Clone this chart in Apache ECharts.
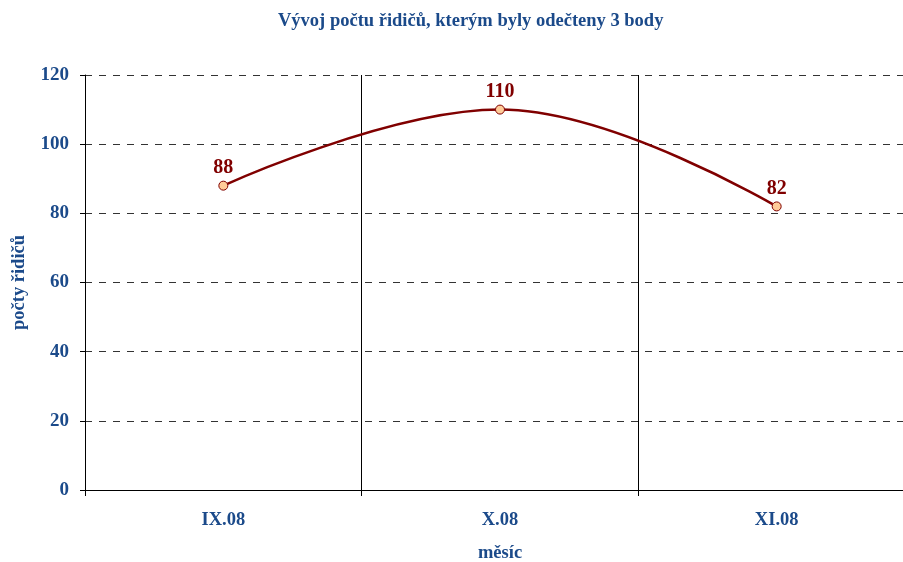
<!DOCTYPE html>
<html>
<head>
<meta charset="utf-8">
<script src="https://cdn.jsdelivr.net/npm/echarts@6/dist/echarts.min.js"></script>
<style>
  html, body { margin: 0; padding: 0; background: #fff; }
  #chart { width: 903px; height: 562px; }
</style>
</head>
<body>
<div id="chart"></div>
<script>
const months = ['IX.08', 'X.08', 'XI.08'];
const drivers = [88, 110, 82];

const textBlue = '#1b4a8a';
const serif = '"Liberation Serif", "DejaVu Serif", serif';

const myChart = echarts.init(document.getElementById('chart'));
const option = {
  backgroundColor: '#fff',
  animation: false,
  textStyle: { fontFamily: serif },
  title: {
    text: 'Vývoj počtu řidičů, kterým byly odečteny 3 body',
    left: 273,
    top: 7,
    textStyle: { color: textBlue, fontSize: 18.5, fontWeight: 'bold', fontFamily: serif }
  },
  grid: { left: 85, top: 75, width: 830, height: 415, outerBoundsMode: 'none', containLabel: false },
  xAxis: {
    type: 'category',
    data: months,
    boundaryGap: true,
    name: 'měsíc',
    nameLocation: 'middle',
    nameGap: 54,
    nameTextStyle: { color: textBlue, fontSize: 18.5, fontWeight: 'bold', fontFamily: serif },
    axisLine: { lineStyle: { color: '#000', width: 1 } },
    axisTick: { show: true, length: 6, lineStyle: { color: '#000' } },
    axisLabel: { color: textBlue, fontSize: 18.5, fontWeight: 'bold', margin: 21, fontFamily: serif },
    splitLine: { show: true, lineStyle: { color: '#000', width: 1, type: 'solid' } }
  },
  yAxis: {
    type: 'value',
    min: 0,
    max: 120,
    interval: 20,
    name: 'počty řidičů',
    nameLocation: 'middle',
    nameGap: 56,
    nameTextStyle: { color: textBlue, fontSize: 18.5, fontWeight: 'bold', fontFamily: serif },
    axisLine: { show: true, lineStyle: { color: '#000', width: 1 } },
    axisTick: { show: true, length: 5, lineStyle: { color: '#000' } },
    axisLabel: { color: textBlue, fontSize: 19, fontWeight: 'bold', margin: 16, fontFamily: serif },
    splitLine: { show: true, lineStyle: { color: '#333', width: 1, type: [7, 7] } }
  },
  series: [
    {
      name: 'počty řidičů',
      type: 'line',
      data: drivers,
      smooth: 0.4,
      symbol: 'circle',
      symbolSize: 9,
      lineStyle: { color: '#800000', width: 2.5 },
      itemStyle: { color: '#ffcc99', borderColor: '#800000', borderWidth: 1 },
      label: {
        show: true,
        position: 'top',
        distance: 3,
        color: '#800000',
        fontSize: 20,
        fontWeight: 'bold',
        fontFamily: serif
      }
    }
  ]
};
myChart.setOption(option);
window.addEventListener('resize', () => myChart.resize());
</script>
</body>
</html>
